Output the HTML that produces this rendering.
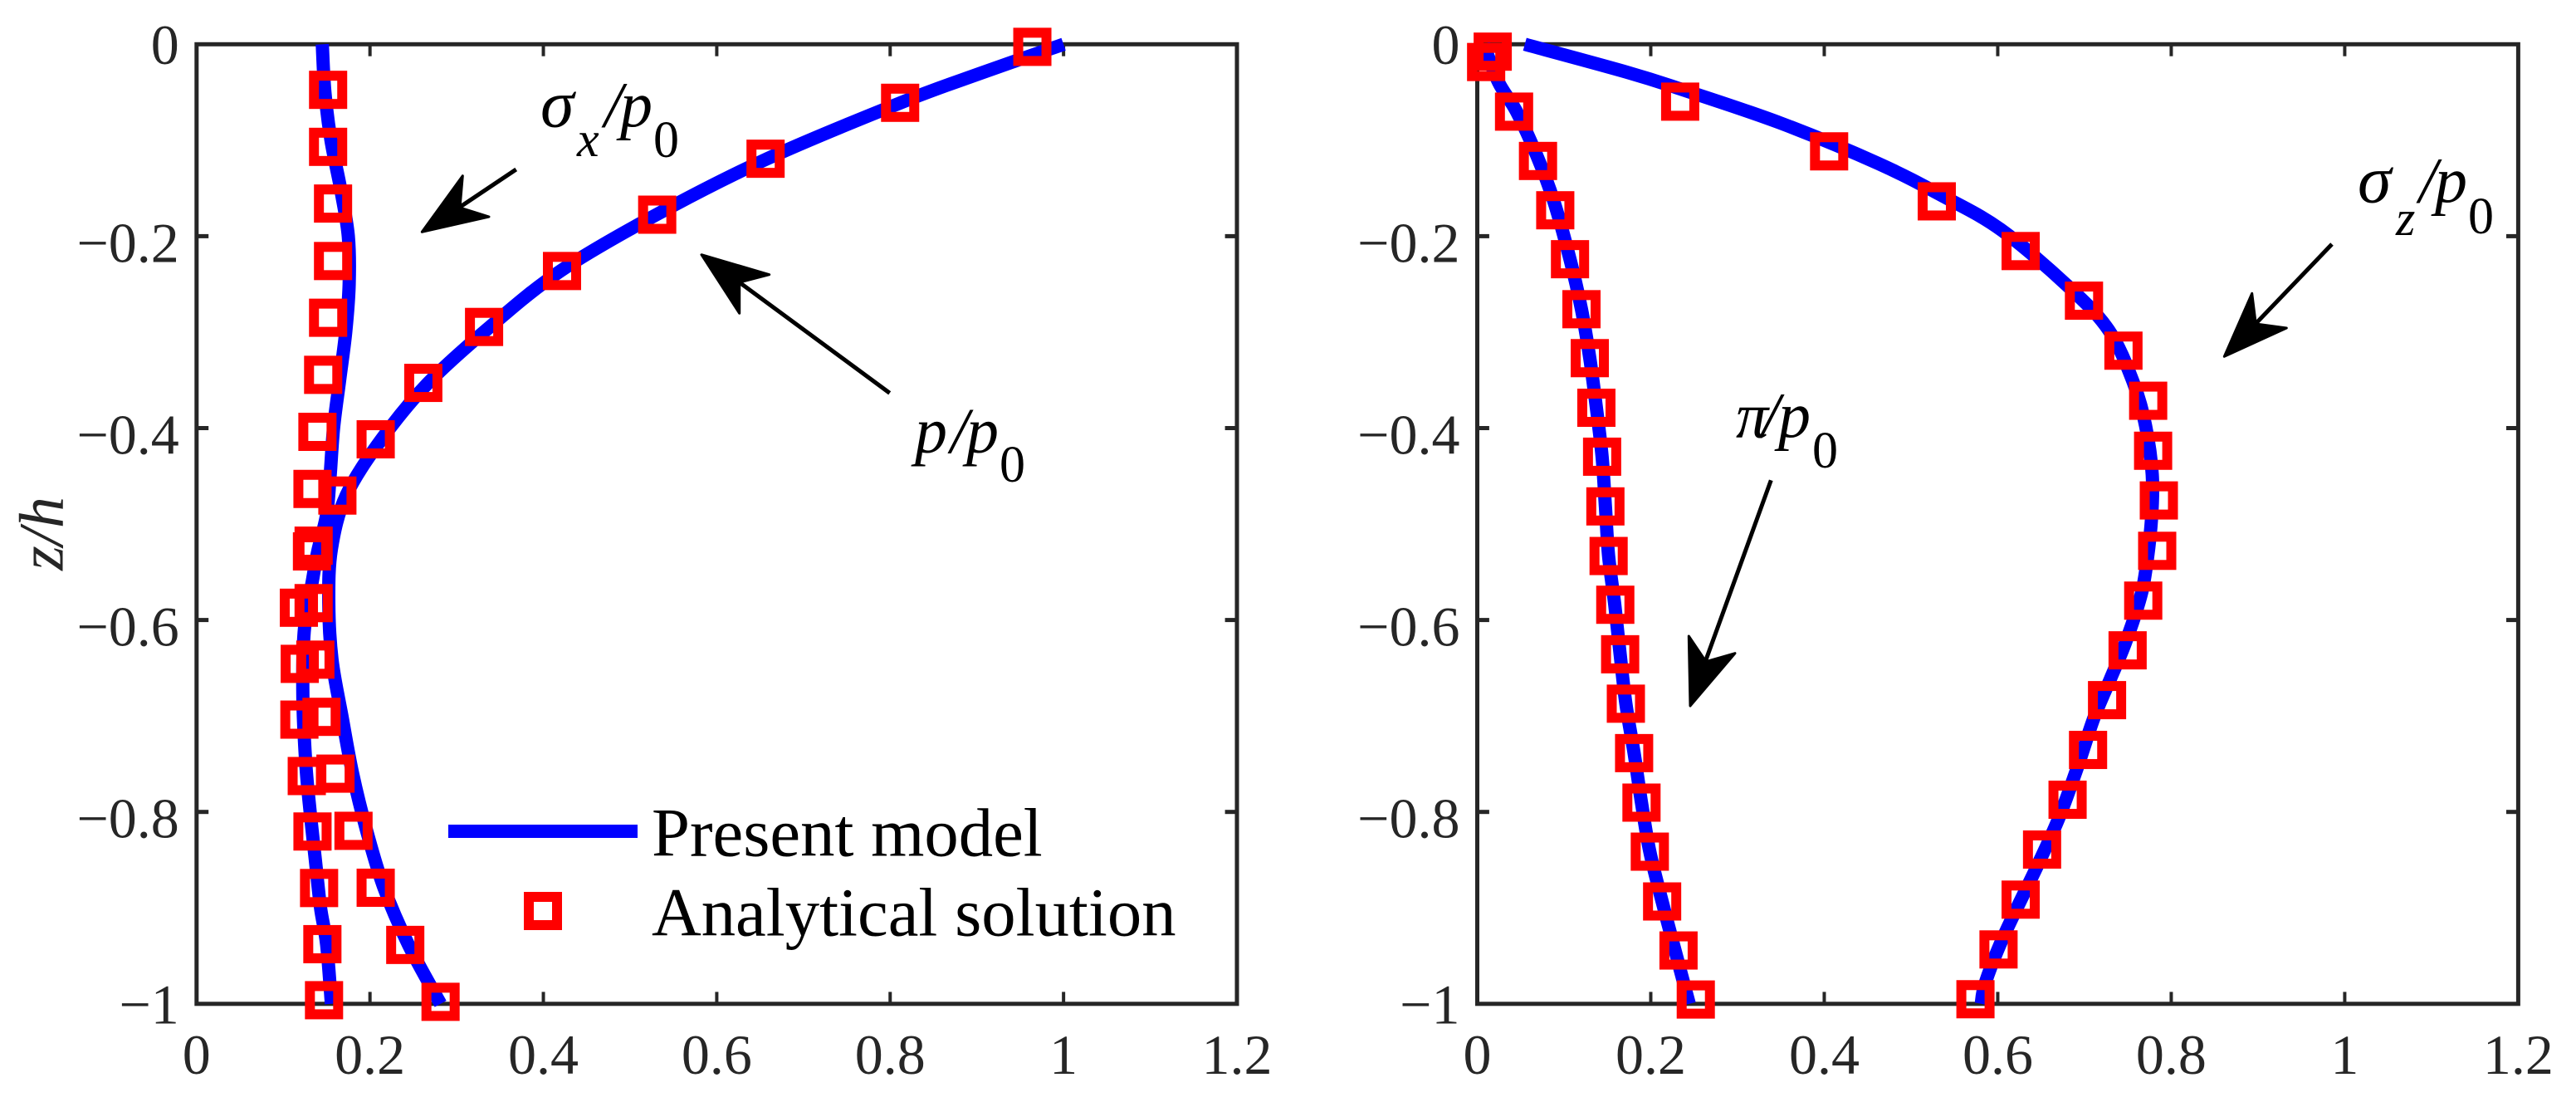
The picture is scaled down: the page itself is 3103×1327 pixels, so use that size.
<!DOCTYPE html>
<html lang="en">
<head>
<meta charset="utf-8">
<title>Stress profiles through thickness</title>
<style>
html,body{margin:0;padding:0;background:#fff;}
svg{display:block;}
text{font-family:"Liberation Serif","DejaVu Serif",serif;}
.tick{font-size:68px;fill:#262626;}
.ann{font-size:78px;font-style:italic;fill:#000;}
.sigma{font-size:82px;font-style:italic;fill:#000;}
.annsub{font-size:60px;font-style:italic;fill:#000;}
.annzero{font-size:62px;fill:#000;}
.leg{font-size:82.7px;fill:#000;}
</style>
</head>
<body>
<svg id="chart" xmlns="http://www.w3.org/2000/svg" width="3103" height="1327" viewBox="0 0 3103 1327">
  <rect width="3103" height="1327" fill="#fff"/>
  <g id="left-axes"></g>
  <g id="right-axes"></g>
  <g id="left-marks"></g>
  <g id="right-marks"></g>

  <text transform="translate(75.7 642.5) rotate(-90)" text-anchor="middle" style="font-size:76px;font-style:italic;fill:#262626">z/h</text>

  <g>
    <line x1="540" x2="768" y1="1001" y2="1001" stroke="#0000ff" stroke-width="16"/>
    <text class="leg" x="785" y="1030.5">Present model</text>
    <rect x="637" y="1080" width="34" height="34" fill="none" stroke="#ff0000" stroke-width="12"/>
    <text class="leg" x="785" y="1126.5">Analytical solution</text>
  </g>

  <g>
    <text><tspan class="sigma" x="651" y="152.7">σ</tspan><tspan class="annsub" x="695" y="188">x</tspan><tspan class="ann" x="728" y="152.7">/</tspan><tspan class="ann" x="747" y="152.7">p</tspan><tspan class="annzero" x="787" y="189">0</tspan></text>
    <line x1="621.7" y1="204" x2="550" y2="252" stroke="#000" stroke-width="5"/>
    <polygon points="508.3,279.3 557.3,211.7 554,250 589,261" fill="#000" stroke="#000" stroke-width="3" stroke-linejoin="round"/>
  </g>

  <g>
    <text><tspan class="ann" x="1102" y="545">p</tspan><tspan class="ann" x="1145" y="545">/</tspan><tspan class="ann" x="1164" y="545">p</tspan><tspan class="annzero" x="1204" y="580">0</tspan></text>
    <line x1="1071.7" y1="473.3" x2="888" y2="338" stroke="#000" stroke-width="5"/>
    <polygon points="845,306.7 926.7,330.7 890.7,340 890.7,377.3" fill="#000" stroke="#000" stroke-width="3" stroke-linejoin="round"/>
  </g>

  <g>
    <text><tspan class="sigma" x="2840" y="243.3">σ</tspan><tspan class="annsub" x="2886" y="283">z</tspan><tspan class="ann" x="2914" y="243.3">/</tspan><tspan class="ann" x="2933" y="243.3">p</tspan><tspan class="annzero" x="2973" y="281">0</tspan></text>
    <line x1="2809" y1="294" x2="2715" y2="392" stroke="#000" stroke-width="5"/>
    <polygon points="2679.3,429.3 2712.7,353.3 2717.3,390 2754.3,395" fill="#000" stroke="#000" stroke-width="3" stroke-linejoin="round"/>
  </g>

  <g>
    <text><tspan class="ann" x="2091" y="526.7">π</tspan><tspan class="ann" x="2122" y="526.7">/</tspan><tspan class="ann" x="2142" y="526.7">p</tspan><tspan class="annzero" x="2183" y="563">0</tspan></text>
    <line x1="2133.3" y1="578.3" x2="2053" y2="800" stroke="#000" stroke-width="5"/>
    <polygon points="2036,850 2034.3,766 2055,796.7 2090,786.7" fill="#000" stroke="#000" stroke-width="3" stroke-linejoin="round"/>
  </g>
</svg>

<script>
const xTicks = [0, 0.2, 0.4, 0.6, 0.8, 1, 1.2];
const xTickLabels = ['0', '0.2', '0.4', '0.6', '0.8', '1', '1.2'];
const zTicks = [0, -0.2, -0.4, -0.6, -0.8, -1];
const zTickLabels = ['0', '\u22120.2', '\u22120.4', '\u22120.6', '\u22120.8', '\u22121'];

const pLineZ = [0, -0.03, -0.061, -0.1193, -0.1776, -0.2363, -0.2946, -0.3529, -0.4117, -0.4703, -0.526, -0.5824, -0.6413, -0.7009, -0.7601, -0.8197, -0.879, -0.9386, -1];
const pLineX = [1, 0.905, 0.812, 0.6582, 0.5304, 0.4196, 0.3382, 0.2672, 0.2133, 0.1725, 0.1555, 0.1525, 0.1562, 0.1678, 0.18, 0.1962, 0.2161, 0.2445, 0.2814];
const sigmaXLineZ = [0, -0.05, -0.1, -0.15, -0.2, -0.25, -0.3, -0.35, -0.4, -0.45, -0.49, -0.5275, -0.557, -0.6115, -0.68, -0.75, -0.8, -0.85, -0.9, -0.938, -1];
const sigmaXLineX = [0.145, 0.148, 0.155, 0.166, 0.175, 0.176, 0.172, 0.165, 0.158, 0.154, 0.15, 0.14, 0.134, 0.1242, 0.1226, 0.126, 0.131, 0.137, 0.143, 0.15, 0.1555];
const pPointsZ = [-0.0027, -0.061, -0.1193, -0.1776, -0.2363, -0.2946, -0.3529, -0.4117, -0.4703, -0.5225, -0.5824, -0.6413, -0.7009, -0.7601, -0.8197, -0.879, -0.9386, -0.9979];
const pPointsX = [0.964, 0.8115, 0.6563, 0.5313, 0.4215, 0.3316, 0.2615, 0.2066, 0.1624, 0.135, 0.135, 0.137, 0.1441, 0.1602, 0.181, 0.2066, 0.2407, 0.2814];
const sigmaXPointsZ = [-0.0475, -0.1069, -0.166, -0.2259, -0.285, -0.3445, -0.4039, -0.4634, -0.5285, -0.5872, -0.6457, -0.7038, -0.7626, -0.8204, -0.8793, -0.9378, -0.9962];
const sigmaXPointsX = [0.1517, 0.1517, 0.1574, 0.1574, 0.1517, 0.146, 0.1394, 0.1337, 0.1331, 0.118, 0.119, 0.1186, 0.1271, 0.1337, 0.1413, 0.1451, 0.147];

const sigmaZLineZ = [0, -0.0292, -0.0465, -0.0818, -0.1243, -0.159, -0.1938, -0.2518, -0.2979, -0.3522, -0.398, -0.4484, -0.4951, -0.549, -0.5805, -0.6246, -0.6615, -0.702, -0.7534, -0.8049, -0.8528, -0.93, -0.978, -1];
const sigmaZLineX = [0.0548, 0.1728, 0.2339, 0.3486, 0.4624, 0.5383, 0.6046, 0.6805, 0.7279, 0.7562, 0.7705, 0.7781, 0.7772, 0.7705, 0.7632, 0.7468, 0.7298, 0.7109, 0.6919, 0.6711, 0.6474, 0.6066, 0.5857, 0.581];
const sigmaZPointsZ = [-0.0077, -0.0598, -0.1116, -0.1637, -0.2155, -0.2672, -0.3193, -0.3715, -0.4236, -0.4754, -0.5279, -0.5798, -0.6316, -0.6835, -0.7354, -0.7873, -0.8392, -0.8914, -0.9433, -0.9952];
const sigmaZPointsX = [0.0178, 0.2339, 0.4056, 0.5297, 0.6264, 0.6994, 0.7449, 0.7734, 0.7791, 0.7857, 0.7838, 0.7677, 0.7497, 0.726, 0.7041, 0.6805, 0.6511, 0.6264, 0.6009, 0.5743];
const piLineZ = [0, -0.0394, -0.0702, -0.1166, -0.1629, -0.224, -0.2761, -0.3271, -0.3788, -0.4298, -0.4816, -0.5333, -0.5841, -0.6357, -0.6872, -0.7387, -0.7903, -0.8414, -0.8933, -0.9444, -1];
const piLineX = [0.0074, 0.0244, 0.0453, 0.0689, 0.088, 0.1069, 0.1201, 0.1297, 0.1373, 0.1439, 0.1477, 0.1514, 0.1585, 0.1647, 0.1713, 0.1808, 0.1893, 0.1989, 0.2131, 0.228, 0.2444];
const piPointsZ = [-0.0185, -0.0702, -0.1216, -0.173, -0.224, -0.2761, -0.3271, -0.3788, -0.4298, -0.4816, -0.5333, -0.5841, -0.6357, -0.6872, -0.7387, -0.7903, -0.8414, -0.8933, -0.9444, -0.9955];
const piPointsX = [0.0102, 0.0424, 0.07, 0.0899, 0.1069, 0.1201, 0.1297, 0.1373, 0.1439, 0.1477, 0.1514, 0.1591, 0.1647, 0.1713, 0.1808, 0.1893, 0.1989, 0.2131, 0.232, 0.2519];

const SVG_NS = 'http://www.w3.org/2000/svg';
const AXIS_COLOR = '#262626';
const TOP = 53.3, BOTTOM = 1208.8, TICK_LEN = 14.4;
const X_MAX = 1.2;

function zScale(z) {
  return TOP + (0 - z) * (BOTTOM - TOP);
}
function makeXScale(left, right) {
  return function (v) { return left + (v / X_MAX) * (right - left); };
}
function svgEl(tag, attrs) {
  const el = document.createElementNS(SVG_NS, tag);
  for (const k in attrs) el.setAttribute(k, attrs[k]);
  return el;
}
function axisLine(parent, x1, y1, x2, y2, width) {
  const el = svgEl('line', { x1: x1, y1: y1, x2: x2, y2: y2, stroke: AXIS_COLOR, 'stroke-width': width });
  parent.appendChild(el);
  return el;
}
function drawAxes(parent, left, right, xs) {
  const box = svgEl('rect', { x: left, y: TOP, width: right - left, height: BOTTOM - TOP, fill: 'none', stroke: AXIS_COLOR, 'stroke-width': 5 });
  
  
  parent.appendChild(box);

  xTicks.forEach(function (t, i) {
    const px = xs(t);
    if (i > 0 && i < xTicks.length - 1) {
      const b = axisLine(parent, px, BOTTOM, px, BOTTOM - TICK_LEN, 4);
      
      
      const a = axisLine(parent, px, TOP, px, TOP + TICK_LEN, 4);
      
      
    }
    const label = svgEl('text', { x: px, y: 1293, 'text-anchor': 'middle', class: 'tick' });
    label.textContent = xTickLabels[i];
    
    
    parent.appendChild(label);
  });

  zTicks.forEach(function (t, i) {
    const py = zScale(t);
    if (i > 0 && i < zTicks.length - 1) {
      const l = axisLine(parent, left, py, left + TICK_LEN, py, 5);
      
      
      const r = axisLine(parent, right, py, right - TICK_LEN, py, 5);
      
      
    }
    const text = zTickLabels[i];
    const offset = text.length > 2 ? 31 : 23.5;
    const label = svgEl('text', { x: left - 21, y: py + offset, 'text-anchor': 'end', class: 'tick' });
    label.textContent = text;
    
    
    parent.appendChild(label);
  });
}
function smoothPath(xs, ys) {
  let d = 'M' + xs[0].toFixed(2) + ' ' + ys[0].toFixed(2);
  for (let i = 0; i < xs.length - 1; i++) {
    const a = Math.max(i - 1, 0), b = Math.min(i + 2, xs.length - 1);
    const c1x = xs[i] + (xs[i + 1] - xs[a]) / 6, c1y = ys[i] + (ys[i + 1] - ys[a]) / 6;
    const c2x = xs[i + 1] - (xs[b] - xs[i]) / 6, c2y = ys[i + 1] - (ys[b] - ys[i]) / 6;
    d += 'C' + c1x.toFixed(2) + ' ' + c1y.toFixed(2) + ' ' + c2x.toFixed(2) + ' ' + c2y.toFixed(2) + ' ' + xs[i + 1].toFixed(2) + ' ' + ys[i + 1].toFixed(2);
  }
  return d;
}
function drawLine(parent, values, depths, xs, name) {
  const path = svgEl('path', {
    d: smoothPath(values.map(xs), depths.map(zScale)),
    fill: 'none', stroke: '#0000ff', 'stroke-width': 16, 'stroke-linejoin': 'round', 'stroke-linecap': 'butt'
  });
  
  
  parent.appendChild(path);
}
function drawPoints(parent, values, depths, xs, name) {
  values.forEach(function (v, i) {
    const r = svgEl('rect', {
      x: xs(v) - 17, y: zScale(depths[i]) - 17, width: 34, height: 34,
      fill: 'none', stroke: '#ff0000', 'stroke-width': 12
    });
    
    
    parent.appendChild(r);
  });
}

const xLeft = makeXScale(236.8, 1490);
const xRight = makeXScale(1779.5, 3033.4);
const leftAxes = document.getElementById('left-axes');
const rightAxes = document.getElementById('right-axes');
const leftMarks = document.getElementById('left-marks');
const rightMarks = document.getElementById('right-marks');

drawAxes(leftAxes, 236.8, 1490, xLeft);
drawAxes(rightAxes, 1779.5, 3033.4, xRight);

drawLine(leftMarks, sigmaXLineX, sigmaXLineZ, xLeft, 'line-sigma-x');
drawLine(leftMarks, pLineX, pLineZ, xLeft, 'line-p');
drawPoints(leftMarks, pPointsX, pPointsZ, xLeft, 'point-p');
drawPoints(leftMarks, sigmaXPointsX, sigmaXPointsZ, xLeft, 'point-sigma-x');

drawLine(rightMarks, sigmaZLineX, sigmaZLineZ, xRight, 'line-sigma-z');
drawLine(rightMarks, piLineX, piLineZ, xRight, 'line-pi');
drawPoints(rightMarks, sigmaZPointsX, sigmaZPointsZ, xRight, 'point-sigma-z');
drawPoints(rightMarks, piPointsX, piPointsZ, xRight, 'point-pi');
</script>
</body>
</html>
